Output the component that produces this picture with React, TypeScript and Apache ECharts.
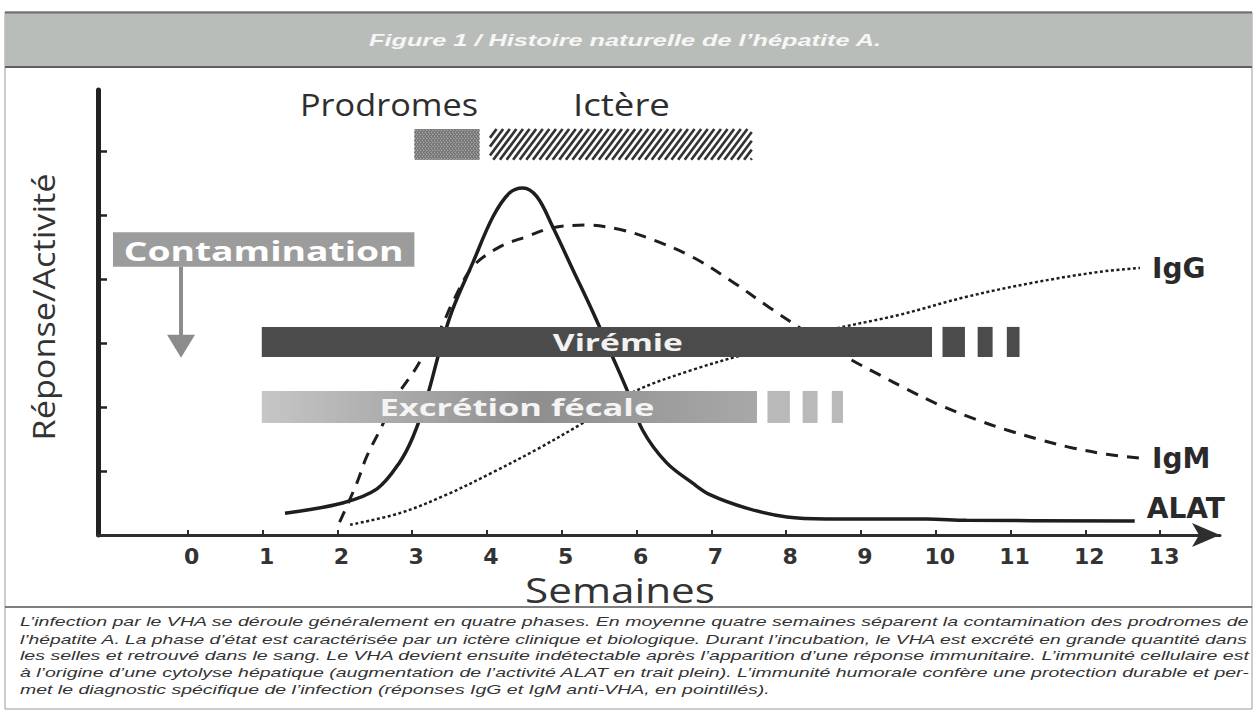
import React, { useEffect, useRef } from 'react';
import * as echarts from 'echarts';

// ---------- DATA ----------
const weekTicks = [0, 1, 2, 3, 4, 5, 6, 7, 8, 9, 10, 11, 12, 13];
const levelTicks = [1, 2, 3, 4, 5, 6];

// [week, response]
const alat: [number, number][] = [
  [1.3, 0.34], [2.07, 0.5], [2.53, 0.72], [2.83, 1.13], [3.01, 1.53], [3.2, 2.16],
  [3.37, 2.89], [3.54, 3.52], [3.81, 4.25], [4.08, 4.97], [4.3, 5.34], [4.48, 5.42],
  [4.67, 5.28], [4.88, 4.81], [5.15, 4.14], [5.42, 3.47], [5.68, 2.78], [5.87, 2.27],
  [6.08, 1.64], [6.4, 1.13], [6.75, 0.81], [6.98, 0.63], [7.47, 0.42], [8.01, 0.28],
  [8.54, 0.25], [9.88, 0.25], [10.41, 0.23], [12.66, 0.22],
];
const igm: [number, number][] = [
  [2.03, 0.2], [2.26, 0.81], [2.39, 1.22], [2.57, 1.64], [2.79, 2.16], [3.01, 2.53],
  [3.14, 2.78], [3.37, 3.2], [3.54, 3.63], [3.81, 4.19], [4.17, 4.5], [4.53, 4.66],
  [4.88, 4.8], [5.33, 4.84], [5.78, 4.77], [6.22, 4.61], [6.75, 4.34], [7.25, 3.98],
  [7.78, 3.55], [8.32, 3.13], [8.85, 2.75], [9.25, 2.5], [9.61, 2.28], [10.05, 2.03],
  [10.55, 1.8], [10.95, 1.64], [11.39, 1.49], [11.83, 1.36], [12.29, 1.26], [12.73, 1.2],
];
const igg: [number, number][] = [
  [2.17, 0.16], [2.83, 0.34], [3.46, 0.63], [4.08, 0.98], [4.67, 1.34], [5.24, 1.72],
  [5.95, 2.23], [6.75, 2.58], [7.65, 2.89], [8.58, 3.2], [9.52, 3.44], [10.41, 3.72],
  [11.3, 3.94], [12.19, 4.11], [12.73, 4.17],
];

// phases (weeks)
const prodromesSpan = [3.03, 3.9];
const ictereSpan = [4.04, 7.54];
const viremiaSpan = [0.99, 9.95];
const viremiaTail = [[10.09, 10.39], [10.56, 10.76], [10.95, 11.12]];
const excretionSpan = [0.99, 7.61];
const excretionTail = [[7.75, 8.05], [8.22, 8.42], [8.61, 8.76]];
const contaminationWeek = -0.09;
const contaminationBox = [-1.0, 3.03];

const titleText = 'Figure 1 / Histoire naturelle de l’hépatite A.';
const captionLines = [
  'L’infection par le VHA se déroule généralement en quatre phases. En moyenne quatre semaines séparent la contamination des prodromes de',
  'l’hépatite A. La phase d’état est caractérisée par un ictère clinique et biologique. Durant l’incubation, le VHA est excrété en grande quantité dans',
  'les selles et retrouvé dans le sang. Le VHA devient ensuite indétectable après l’apparition d’une réponse immunitaire. L’immunité cellulaire est',
  'à l’origine d’une cytolyse hépatique (augmentation de l’activité ALAT en trait plein). L’immunité humorale confère une protection durable et per-',
  'met le diagnostic spécifique de l’infection (réponses IgG et IgM anti-VHA, en pointillés).',
];

// ---------- helpers ----------
let measureCtx: CanvasRenderingContext2D | null = null;
function measure(text: string, style: string, weight: string, size: number, family: string) {
  if (!measureCtx) measureCtx = document.createElement('canvas').getContext('2d');
  measureCtx!.font = `${style} ${weight} ${size}px "${family}"`;
  return measureCtx!.measureText(text).width;
}

type TOpts = { size: number; weight?: string; style?: string; family: string; color: string; align?: string; rotation?: number; z?: number };
function fitText(text: string, x: number, y: number, width: number, o: TOpts) {
  const weight = o.weight || 'normal';
  const fstyle = o.style || 'normal';
  const w = measure(text, fstyle, weight, o.size, o.family);
  const sx = width / w;
  return textEl(text, x, y, sx, o);
}
function textEl(text: string, x: number, y: number, sx: number, o: TOpts) {
  const align = o.align || 'left';
  return {
    type: 'text',
    x, y,
    scaleX: sx,
    rotation: o.rotation || 0,
    z: o.z ?? 20,
    style: {
      text,
      fontSize: o.size,
      fontWeight: o.weight || 'normal',
      fontStyle: o.style || 'normal',
      fontFamily: o.family,
      fill: o.color,
      textAlign: align, align,
      textVerticalAlign: 'middle', verticalAlign: 'middle',
    },
  };
}

// grid geometry
const GRID_LEFT = 98;
const GRID_RIGHT = 37;
const GRID_TOP = 90;
const GRID_BOTTOM = 183;

export default function App() {
  const ref = useRef<HTMLDivElement>(null);
  useEffect(() => {
    document.body.style.margin = '0';
    const chart = echarts.init(ref.current!, null, { renderer: 'svg', width: 1257, height: 718 });

    // custom bar items: [x0, x1, yLow, yHigh, kind]
    const barItems: number[][] = [];
    barItems.push([contaminationBox[0], contaminationBox[1], 4.19, 4.73, 6]);
    barItems.push([contaminationWeek, contaminationWeek, 2.77, 4.19, 7]);
    barItems.push([prodromesSpan[0], prodromesSpan[1], 5.86, 6.34, 4]);
    barItems.push([ictereSpan[0], ictereSpan[1], 5.86, 6.34, 5]);
    barItems.push([viremiaSpan[0], viremiaSpan[1], 2.78, 3.25, 0]);
    viremiaTail.forEach((b) => barItems.push([b[0], b[1], 2.78, 3.25, 1]));
    barItems.push([excretionSpan[0], excretionSpan[1], 1.75, 2.25, 2]);
    excretionTail.forEach((b) => barItems.push([b[0], b[1], 1.75, 2.25, 3]));

    const boldLabel = (text: string, cx: number, cy: number, width: number, size: number, color: string) =>
      fitText(text, cx - width / 2, cy, width, { size, weight: 'bold', family: 'Open Sans', color });

    const renderItem = (params: any, api: any) => {
      const x0 = api.value(0), x1 = api.value(1), yl = api.value(2), yh = api.value(3), kind = api.value(4);
      const p0 = api.coord([x0, yh]);
      const p1 = api.coord([x1, yl]);
      const rx = p0[0], ry = p0[1], rw = p1[0] - p0[0], rh = p1[1] - p0[1];
      if (kind === 7) {
        const head = 23;
        return {
          type: 'group',
          children: [
            { type: 'line', shape: { x1: rx, y1: ry, x2: rx, y2: p1[1] - head + 2 }, style: { stroke: '#8c8c8c', lineWidth: 4 } },
            { type: 'polygon', shape: { points: [[rx - 14, p1[1] - head], [rx + 14, p1[1] - head], [rx, p1[1]]] }, style: { fill: '#8c8c8c' } },
          ],
        };
      }
      if (kind === 5 || kind === 4) {
        const children: any[] = [];
        const dense = kind === 4;
        if (dense) children.push({ type: 'rect', shape: { x: rx, y: ry, width: rw, height: rh }, style: { fill: '#a2a2a2' } });
        const spacing = dense ? 3 : 6.6;
        const dx = rh * 0.75;
        const dirs = dense ? [1, -1] : [1];
        dirs.forEach((dir) => {
          for (let a = rx - dx; a < rx + rw; a += spacing) {
            let t0 = 0, t1 = 1;
            if (a < rx) t0 = Math.max(t0, (rx - a) / dx);
            if (a + dx > rx + rw) t1 = Math.min(t1, (rx + rw - a) / dx);
            if (t1 <= t0) continue;
            const ya = (t: number) => (dir === 1 ? ry + rh - t * rh : ry + t * rh);
            children.push({
              type: 'line',
              shape: { x1: a + t0 * dx, y1: ya(t0), x2: a + t1 * dx, y2: ya(t1) },
              style: { stroke: dense ? '#6c6c6c' : '#333333', lineWidth: dense ? 1 : 2.7 },
            });
          }
        });
        return { type: 'group', children };
      }
      let fill: any = '#4b4b4b';
      if (kind === 2) {
        fill = new echarts.graphic.LinearGradient(0, 0, 1, 0, [
          { offset: 0, color: '#c6c6c6' },
          { offset: 0.55, color: '#8e8e8e' },
          { offset: 1, color: '#a8a8a8' },
        ]);
      } else if (kind === 3) fill = '#b9b9b9';
      else if (kind === 6) fill = '#9c9c9c';
      const children: any[] = [{ type: 'rect', shape: { x: rx, y: ry, width: rw, height: rh }, style: { fill } }];
      const cy = ry + rh / 2;
      if (kind === 0) children.push(boldLabel('Virémie', api.coord([5.75, 0])[0], cy, 130, 24, '#f2f2f2'));
      if (kind === 2) children.push(boldLabel('Excrétion fécale', api.coord([4.4, 0])[0], cy, 275, 24, '#f4f4f4'));
      if (kind === 6) children.push(boldLabel('Contamination', rx + rw / 2, cy + 1, 280, 26, '#ffffff'));
      return { type: 'group', children };
    };

    const captionX = 20;
    const captionScales = captionLines.slice(0, 4).map(
      (l) => 1230 / measure(l, 'italic', 'normal', 13, 'Liberation Sans'),
    );
    const meanScale = captionScales.reduce((a, b) => a + b, 0) / captionScales.length;
    const captionEls = captionLines.map((l, i) =>
      textEl(l, captionX, 622 + i * 17, i < 4 ? captionScales[i] : meanScale, {
        size: 13, style: 'italic', family: 'Liberation Sans', color: '#333333',
      }),
    );

    const endLabelStyle = {
      show: true, formatter: '{a}', fontFamily: 'DejaVu Sans', fontWeight: 'bold', fontSize: 28,
      color: '#2a2a2a', distance: 12,
    };

    const option: any = {
      animation: false,
      backgroundColor: '#ffffff',
      grid: { left: GRID_LEFT, right: GRID_RIGHT, top: GRID_TOP, bottom: GRID_BOTTOM },
      xAxis: {
        type: 'value',
        min: -1.2,
        max: 13.8,
        splitLine: { show: false },
        axisLine: {
          show: true,
          onZero: false,
          symbol: ['none', 'arrow'],
          symbolSize: [18, 28],
          lineStyle: { color: '#2e2e2e', width: 3 },
        },
        axisTick: { show: true, inside: true, length: 5, customValues: weekTicks, lineStyle: { color: '#2e2e2e', width: 2 } },
        axisLabel: {
          customValues: weekTicks,
          fontFamily: 'DejaVu Sans',
          fontWeight: 'bold',
          fontSize: 22,
          color: '#333333',
          margin: 10,
          padding: [0, 0, 0, 8],
        },
      },
      yAxis: {
        type: 'value',
        min: 0,
        max: 6.95,
        splitLine: { show: false },
        axisLine: { show: true, onZero: false, lineStyle: { color: '#222222', width: 5 } },
        axisTick: { show: true, inside: true, length: 9, customValues: levelTicks, lineStyle: { color: '#222222', width: 2.5 } },
        axisLabel: { show: false },
      },
      series: [
        {
          name: 'ALAT',
          type: 'line',
          data: alat,
          showSymbol: false,
          smooth: 0.35,
          z: 3,
          lineStyle: { color: '#1e1e1e', width: 3.5 },
          endLabel: { ...endLabelStyle, offset: [0, -12] },
        },
        {
          name: 'IgM',
          type: 'line',
          data: igm,
          showSymbol: false,
          smooth: 0.35,
          z: 3,
          lineStyle: { color: '#1e1e1e', width: 3, type: [12, 9] },
          endLabel: { ...endLabelStyle },
        },
        {
          name: 'IgG',
          type: 'line',
          data: igg,
          showSymbol: false,
          smooth: 0.35,
          z: 3,
          lineStyle: { color: '#1e1e1e', width: 2.5, type: [3, 2.5] },
          endLabel: { ...endLabelStyle },
        },
        {
          name: 'phases',
          type: 'custom',
          renderItem,
          data: barItems,
          z: 6,
          clip: false,
          encode: { x: [0, 1], y: [2, 3] },
        },
      ],
      graphic: [
        { type: 'rect', z: 1, shape: { x: 5, y: 12, width: 1247, height: 697 }, style: { fill: 'none', stroke: '#9a9a9a', lineWidth: 1 } },
        { type: 'rect', z: 1, shape: { x: 5, y: 12, width: 1247, height: 55 }, style: { fill: '#b9bdb9' } },
        { type: 'line', z: 2, shape: { x1: 5, y1: 12.5, x2: 1252, y2: 12.5 }, style: { stroke: '#6e716e', lineWidth: 2 } },
        { type: 'line', z: 2, shape: { x1: 5, y1: 67, x2: 1252, y2: 67 }, style: { stroke: '#5e605e', lineWidth: 2 } },
        fitText(titleText, 369, 40, 513, { size: 16, weight: 'bold', style: 'italic', family: 'Liberation Sans', color: '#f6f6f6' }),
        { type: 'line', z: 2, shape: { x1: 5, y1: 607, x2: 1252, y2: 607 }, style: { stroke: '#555555', lineWidth: 1.5 } },
        ...captionEls,
        fitText('Prodromes', 300, 104, 178, { size: 31, family: 'Open Sans', color: '#2e2e2e' }),
        fitText('Ictère', 573, 104, 97, { size: 31, family: 'Open Sans', color: '#2e2e2e' }),
        fitText('Semaines', 525, 590, 190, { size: 34, family: 'Open Sans', color: '#333333' }),
        {
          ...fitText('Réponse/Activité', 0, 0, 267, { size: 31, family: 'Open Sans', color: '#333333', align: 'center' }),
          x: 43, y: 307, rotation: Math.PI / 2,
        },
      ],
    };

    chart.setOption(option);
    return () => chart.dispose();
  }, []);
  return <div ref={ref} style={{ width: 1257, height: 718, background: '#fff' }} />;
}
